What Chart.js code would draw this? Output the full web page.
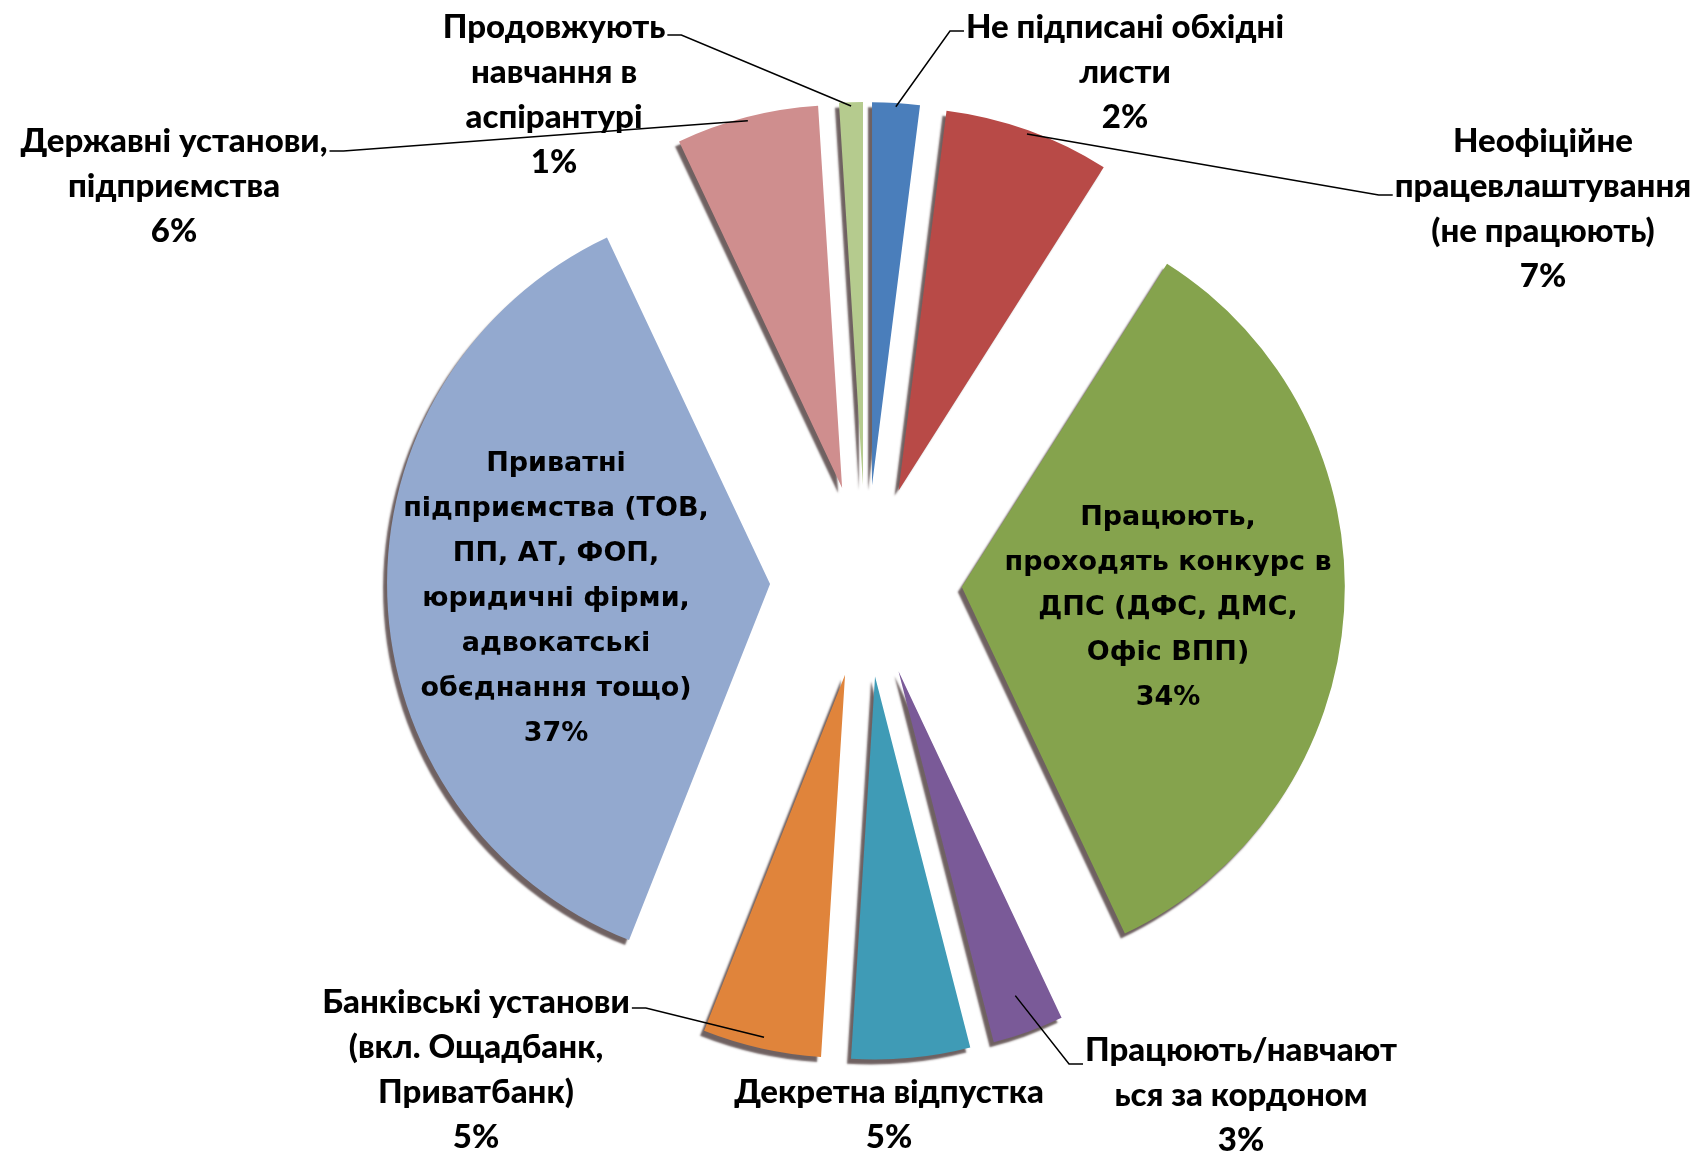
<!DOCTYPE html>
<html>
<head>
<meta charset="utf-8">
<script src="https://cdn.jsdelivr.net/npm/chart.js@4.4.0/dist/chart.umd.min.js"></script>
<style>
  body { margin: 0; background: #fff; }
  #wrap { width: 1704px; height: 1153px; }
</style>
</head>
<body>
<div id="wrap"><canvas id="pieChart" width="1704" height="1153"></canvas></div>
<script>
// data, clockwise from the top
var categories = [
    ['Не підписані обхідні', 'листи'],
    ['Неофіційне', 'працевлаштування', '(не працюють)'],
    ['Працюють,', 'проходять конкурс в', 'ДПС (ДФС, ДМС,', 'Офіс ВПП)'],
    ['Працюють/навчают', 'ься за кордоном'],
    ['Декретна відпустка'],
    ['Банківські установи', '(вкл. Ощадбанк,', 'Приватбанк)'],
    ['Приватні', 'підприємства (ТОВ,', 'ПП, АТ, ФОП,', 'юридичні фірми,', 'адвокатські', 'обєднання тощо)'],
    ['Державні установи,', 'підприємства'],
    ['Продовжують', 'навчання в', 'аспірантурі']
];
var shares = [2, 7, 34, 3, 5, 5, 37, 6, 1];

var colours = ['#4a7ebb', '#b84a47', '#85a34d', '#7a5a98', '#3f9bb6', '#e0843b', '#93a9cf', '#cf8e8e', '#b5cb8e'];

// where each label sits, and where its leader line leaves the text
var labelLayout = [
    { x: 1125, y: 27,  inside: false, attach: 'left',  line: 0, dy: 4,  reach: 0.99 },
    { x: 1543, y: 141, inside: false, attach: 'left',  line: 1, dy: 9,  reach: 0.99 },
    { x: 1168, y: 518, inside: true },
    { x: 1241, y: 1050, inside: false, attach: 'left', line: 0, dy: 14, reach: 0.9 },
    { x: 889, y: 1092, inside: false },
    { x: 476, y: 1002, inside: false, attach: 'right', line: 0, dy: 6,  reach: 0.97 },
    { x: 556, y: 464, inside: true },
    { x: 174, y: 141, inside: false, attach: 'right', line: 0, dy: 10, reach: 0.99 },
    { x: 554, y: 27,  inside: false, attach: 'right', line: 0, dy: 8,  reach: 0.99 }
];

var explode = 96;   // how far every slice is pulled out, px
var lineH = 45;
var outsideFont = '900 33px Lato, "Open Sans", sans-serif';
var insideFont = 'bold 27px "DejaVu Sans", Verdana, sans-serif';

// the built-in offset also narrows small slices, so shift each arc ourselves
var explodePlugin = {
    id: 'explode',
    beforeDatasetsDraw(chart) {
        chart.getDatasetMeta(0).data.forEach(arc => {
            if (arc._exploded) return;
            var orig = arc.draw;
            arc.draw = function (ctx) {
                var mid = (this.startAngle + this.endAngle) / 2;
                ctx.save();
                ctx.translate(Math.cos(mid) * explode, Math.sin(mid) * explode);
                orig.call(this, ctx);
                ctx.restore();
            };
            arc._exploded = true;
        });
    }
};

// fake 3d edge: a dark shadow under every slice
var depthPlugin = {
    id: 'depth',
    beforeDatasetsDraw(chart) {
        var c = chart.ctx;
        c.save();
        c.shadowColor = 'rgba(50,30,30,0.7)';
        c.shadowOffsetX = -4;
        c.shadowOffsetY = 5;
        c.shadowBlur = 2;
    },
    afterDatasetsDraw(chart) {
        chart.ctx.restore();
    }
};

var labelPlugin = {
    id: 'sliceLabels',
    afterDraw(chart) {
        var ctx = chart.ctx;
        chart.getDatasetMeta(0).data.forEach((arc, i) => {
            var lay = labelLayout[i];
            var lines = categories[i].concat([shares[i] + '%']);
            ctx.save();
            ctx.font = lay.inside ? insideFont : outsideFont;
            ctx.fillStyle = '#000';
            ctx.textAlign = 'center';
            ctx.textBaseline = 'middle';
            lines.forEach((t, k) => ctx.fillText(t, lay.x, lay.y + k * lineH));

            if (lay.attach) {
                var mid = (arc.startAngle + arc.endAngle) / 2;
                var rr = explode + arc.outerRadius * lay.reach;
                var ex = arc.x + Math.cos(mid) * rr;
                var ey = arc.y + Math.sin(mid) * rr;
                var w = ctx.measureText(lines[lay.line]).width;
                var ly = lay.y + lay.line * lineH + lay.dy;
                var sx = lay.attach === 'left' ? lay.x - w / 2 - 2 : lay.x + w / 2 + 2;
                var kx = lay.attach === 'left' ? sx - 14 : sx + 14;
                ctx.strokeStyle = '#000';
                ctx.lineWidth = 1.5;
                ctx.beginPath();
                ctx.moveTo(sx, ly);
                ctx.lineTo(kx, ly);
                ctx.lineTo(ex, ey);
                ctx.stroke();
            }
            ctx.restore();
        });
    }
};

new Chart(document.getElementById('pieChart'), {
    type: 'pie',
    data: {
        labels: categories.map(l => l.join(' ')),
        datasets: [{
            data: shares,
            backgroundColor: colours,
            borderWidth: 0,
            clip: false
        }]
    },
    options: {
        responsive: false,
        animation: false,
        rotation: 0,
        radius: 383,
        layout: {
            padding: { left: 28, top: 9, right: 0, bottom: 0 }
        },
        plugins: {
            legend: { display: false },
            tooltip: { enabled: false }
        }
    },
    plugins: [explodePlugin, depthPlugin, labelPlugin]
});
</script>
</body>
</html>
